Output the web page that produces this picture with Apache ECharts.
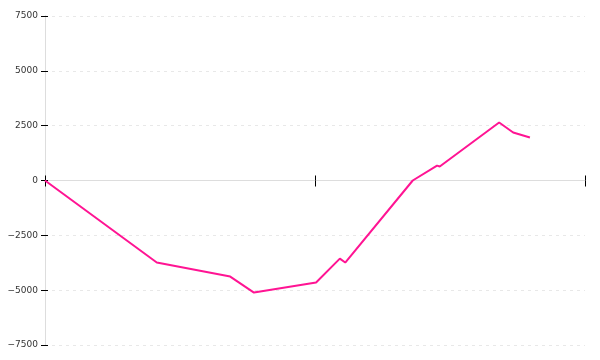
<!DOCTYPE html>
<html>
<head>
<meta charset="utf-8">
<script src="https://cdn.jsdelivr.net/npm/echarts@6/dist/echarts.min.js"></script>
<style>html,body{margin:0;padding:0;background:#fff}#c{width:600px;height:360px}</style>
</head>
<body>
<div id="c"></div>
<script>
var xValues = [0, 20.7, 34.3, 38.7, 50.2, 54.6, 55.6, 68.1, 72.6, 73.1, 84.1, 86.7, 89.8];
var yValues = [0, -3740, -4380, -5110, -4650, -3560, -3740, 0, 680, 640, 2645, 2190, 1960];
var yTicks = [-7500, -5000, -2500, 0, 2500, 5000, 7500];
var xTicks = [0, 50, 100];

var points = xValues.map(function (x, i) { return [x, yValues[i]]; });

var font = 'DejaVu Sans';
function yAxisBase(extra) {
  var a = {
    type: 'value',
    min: yTicks[0],
    max: yTicks[yTicks.length - 1],
    interval: yTicks[1] - yTicks[0],
    axisLine: { show: true, onZero: false, lineStyle: { color: '#dddddd', width: 1 } },
    axisTick: { show: true, length: 4, lineStyle: { color: '#000', width: 1 } },
    splitLine: { show: false },
    axisLabel: { show: false }
  };
  for (var k in extra) a[k] = extra[k];
  return a;
}
function xAxisBase(extra) {
  var a = {
    type: 'value',
    min: xTicks[0],
    max: xTicks[xTicks.length - 1],
    interval: xTicks[1] - xTicks[0],
    axisLine: { show: true, onZero: true, lineStyle: { color: '#dddddd', width: 1 } },
    axisTick: { show: true, length: 6, lineStyle: { color: '#000', width: 1 } },
    splitLine: { show: false },
    axisLabel: { show: false }
  };
  for (var k in extra) a[k] = extra[k];
  return a;
}

var chart = echarts.init(document.getElementById('c'), null, { renderer: 'canvas' });
chart.setOption({
  animation: false,
  backgroundColor: '#ffffff',
  grid: { left: 45, right: 15, top: 16, bottom: 15, containLabel: false },
  xAxis: [
    xAxisBase({}),
    xAxisBase({ position: 'bottom', axisTick: { show: true, inside: true, length: 5, lineStyle: { color: '#000', width: 1 } } })
  ],
  yAxis: [
    yAxisBase({
      axisLabel: {
        show: true, margin: 7, color: '#333', fontFamily: font, fontSize: 9,
        formatter: function (v) { return String(v).replace('-', '\u2212'); }
      },
      splitLine: { show: true, lineStyle: { color: '#e8e8e8', type: [3, 4], width: 1 } }
    }),
    yAxisBase({ position: 'left', axisTick: { show: true, inside: true, length: 3, lineStyle: { color: '#000', width: 1 } } })
  ],
  series: [{
    type: 'line',
    xAxisIndex: 0,
    yAxisIndex: 0,
    data: points,
    showSymbol: false,
    symbol: 'none',
    lineStyle: { color: '#ff1493', width: 2 },
    z: 5
  }]
});
</script>
</body>
</html>
